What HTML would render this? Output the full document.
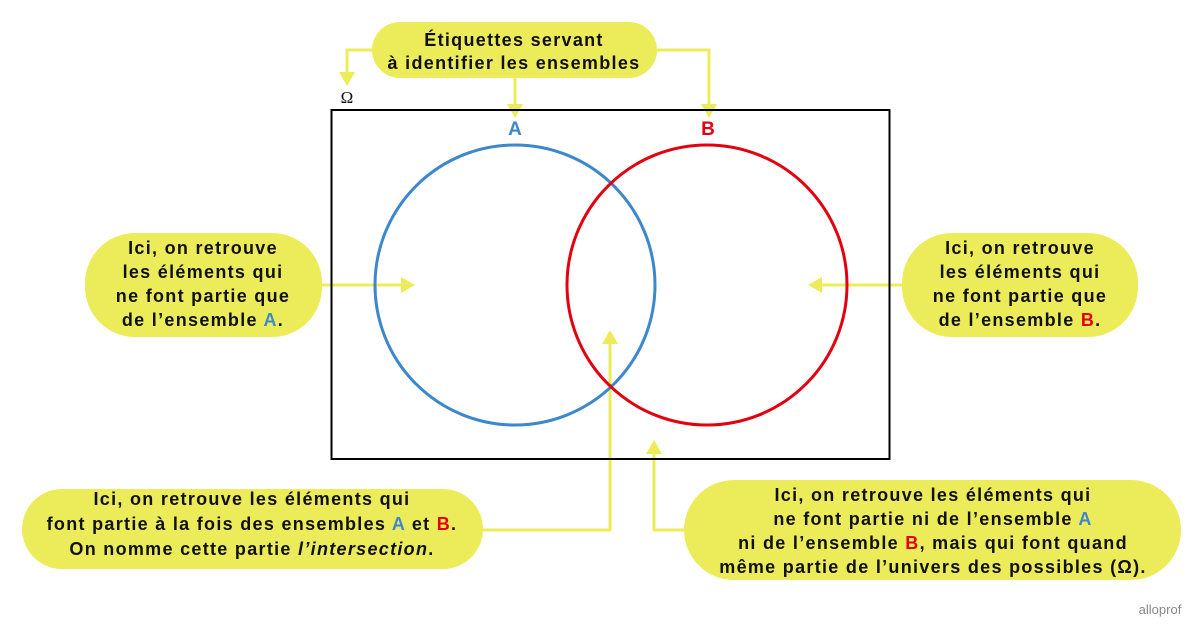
<!DOCTYPE html>
<html><head><meta charset="utf-8"><style>
body{margin:0;background:#fff;}
svg{display:block;}
text{font-family:"Liberation Sans",sans-serif;font-weight:bold;font-size:18px;letter-spacing:1.3px;fill:#111;}
.b{fill:#3d87cc}.r{fill:#e3000f}
</style></head><body>
<svg width="1201" height="633" viewBox="0 0 1201 633">
<g fill="none" stroke="#ecec5a" stroke-width="3">
<polyline points="372,50 347,50 347,74"/>
<polyline points="515,78 515,106"/>
<polyline points="657,50 709,50 709,106"/>
<polyline points="322,285 403,285"/>
<polyline points="902,285 820,285"/>
<polyline points="483,530 610,530 610,342"/>
<polyline points="684,530 654,530 654,452"/>
</g>
<g fill="#ecec5a">
<polygon points="339,72 355,72 347,86"/>
<polygon points="507,104 523,104 515,118"/>
<polygon points="701,104 717,104 709,118"/>
<polygon points="401,277 401,293 415,285"/>
<polygon points="822,277 822,293 808,285"/>
<polygon points="602,344 618,344 610,330"/>
<polygon points="646,454 662,454 654,440"/>
</g>
<rect x="331.5" y="110" width="558" height="349" fill="none" stroke="#000" stroke-width="2"/>
<circle cx="515" cy="285" r="140" fill="none" stroke="#3d87cc" stroke-width="3"/>
<circle cx="707" cy="285" r="140" fill="none" stroke="#e3000f" stroke-width="3"/>
<text x="347" y="103" text-anchor="middle" style="font-family:'Liberation Serif',serif;font-weight:normal;font-size:17px;letter-spacing:0">Ω</text>
<text x="515" y="135" text-anchor="middle" class="b" style="font-size:19px;letter-spacing:0">A</text>
<text x="708" y="135" text-anchor="middle" class="r" style="font-size:19px;letter-spacing:0">B</text>

<rect x="372" y="22" width="285" height="56" rx="28" fill="#ecec5a"/>
<text x="514" y="46" text-anchor="middle">Étiquettes servant</text>
<text x="514" y="69" text-anchor="middle">à identifier les ensembles</text>

<rect x="85" y="233" width="237" height="104" rx="50" fill="#ecec5a"/>
<g text-anchor="middle">
<text x="203" y="254">Ici, on retrouve</text>
<text x="203" y="278">les éléments qui</text>
<text x="203" y="302">ne font partie que</text>
<text x="203" y="326">de l’ensemble <tspan class="b">A</tspan>.</text>
</g>
<rect x="902" y="233" width="236" height="104" rx="50" fill="#ecec5a"/>
<g text-anchor="middle">
<text x="1020" y="254">Ici, on retrouve</text>
<text x="1020" y="278">les éléments qui</text>
<text x="1020" y="302">ne font partie que</text>
<text x="1020" y="326">de l’ensemble <tspan class="r">B</tspan>.</text>
</g>
<rect x="22" y="489" width="461" height="80" rx="40" fill="#ecec5a"/>
<g text-anchor="middle">
<text x="252" y="505">Ici, on retrouve les éléments qui</text>
<text x="252" y="530">font partie à la fois des ensembles <tspan class="b">A</tspan> et <tspan class="r">B</tspan>.</text>
<text x="252" y="555">On nomme cette partie <tspan font-style="italic">l’intersection</tspan>.</text>
</g>
<rect x="684" y="480" width="497" height="100" rx="50" fill="#ecec5a"/>
<g text-anchor="middle">
<text x="933" y="501">Ici, on retrouve les éléments qui</text>
<text x="933" y="525">ne font partie ni de l’ensemble <tspan class="b">A</tspan></text>
<text x="933" y="549">ni de l’ensemble <tspan class="r">B</tspan>, mais qui font quand</text>
<text x="933" y="573">même partie de l’univers des possibles (Ω).</text>
</g>
<text x="1160" y="614" text-anchor="middle" style="font-size:13px;font-weight:normal;letter-spacing:0;fill:#888">alloprof</text>
</svg>
</body></html>
